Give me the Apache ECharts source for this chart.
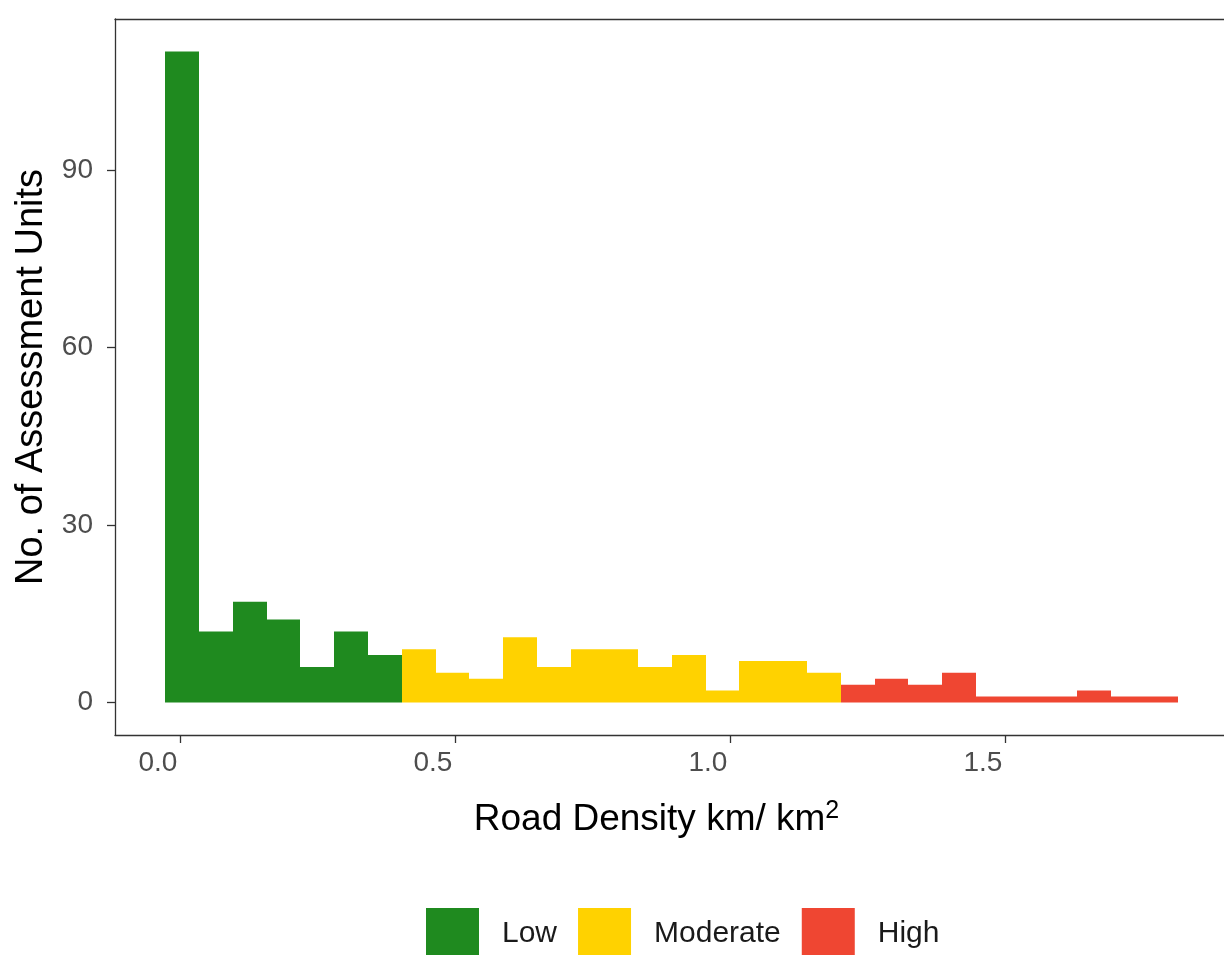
<!DOCTYPE html>
<html>
<head>
<meta charset="utf-8">
<script src="https://cdn.jsdelivr.net/npm/echarts@6/dist/echarts.min.js"></script>
<style>
  html, body { margin: 0; padding: 0; background: #ffffff; }
  #chart { width: 1224px; height: 955px; }
</style>
</head>
<body>
<div id="chart"></div>
<script>
// ---- Data ----
const binStart = -0.0273;          // left edge of first bin (km/km2)
const binWidth = 0.0614;           // histogram bin width (km/km2)
const categories = ['Low', 'Moderate', 'High'];
const lowCounts = [110, 12, 17, 14, 6, 12, 8];
const moderateCounts = [9, 5, 4, 11, 6, 9, 9, 6, 8, 2, 7, 7, 5];
const highCounts = [3, 4, 3, 5, 1, 1, 1, 2, 1, 1];
const xTicks = [0, 0.5, 1.0, 1.5];
const yTicks = [0, 30, 60, 90];
const colors = { Low: '#1f8a1f', Moderate: '#ffd200', High: '#ef4632' };

const FONT = '"Liberation Sans", Arial, Helvetica, sans-serif';
const X_MIN = -0.1189, X_MAX = 1.8975;

function binData(firstBinIndex, counts) {
  return counts.map((c, i) => [
    binStart + (firstBinIndex + i) * binWidth,
    binStart + (firstBinIndex + i + 1) * binWidth,
    c
  ]);
}

function histSeries(name, firstBinIndex, counts) {
  const color = colors[name];
  return {
    type: 'custom',
    name: name,
    xAxisIndex: 0,
    itemStyle: { color: color },
    data: binData(firstBinIndex, counts),
    encode: { x: [0, 1], y: 2 },
    renderItem: function (params, api) {
      const p0 = api.coord([api.value(0), 0]);
      const p1 = api.coord([api.value(1), api.value(2)]);
      const x0 = Math.round(p0[0]);
      const x1 = Math.round(p1[0]);
      return {
        type: 'rect',
        shape: { x: x0, y: p1[1], width: x1 - x0, height: p0[1] - p1[1] },
        style: { fill: color }
      };
    }
  };
}

const chart = echarts.init(document.getElementById('chart'), null, { renderer: 'canvas' });

const option = {
  backgroundColor: '#ffffff',
  animation: false,
  textStyle: { fontFamily: FONT },
  grid: {
    left: 115, top: 19, right: 0, bottom: 220,
    show: false,
    containLabel: false
  },
  xAxis: [{
    type: 'value',
    min: X_MIN, max: X_MAX,
    splitLine: { show: false },
    axisLine: { show: true, onZero: false, lineStyle: { color: '#333333', width: 1.3 } },
    axisTick: { show: true, length: 8, customValues: xTicks, lineStyle: { color: '#333333', width: 1.3 } },
    axisLabel: {
      customValues: xTicks,
      formatter: v => v.toFixed(1),
      fontSize: 28, color: '#4d4d4d', fontFamily: FONT,
      align: 'right', margin: 14, padding: [0, 3, 0, 0]
    },
    name: 'Road Density km/ km{sup|2}',
    nameLocation: 'middle',
    nameGap: 64,
    nameTextStyle: {
      fontSize: 37, color: '#000000', fontFamily: FONT, padding: [0, 26, 0, 0],
      rich: { sup: { fontSize: 25, color: '#000000', fontFamily: FONT, verticalAlign: 'top', padding: [0, 0, 17, 0] } }
    }
  }, {
    // top panel border
    type: 'value',
    position: 'top',
    min: X_MIN, max: X_MAX,
    splitLine: { show: false },
    axisLine: { show: true, onZero: false, lineStyle: { color: '#333333', width: 1.3 } },
    axisTick: { show: false },
    axisLabel: { show: false }
  }],
  yAxis: {
    type: 'value',
    min: -5.5, max: 115.5,
    splitLine: { show: false },
    axisLine: { show: true, onZero: false, lineStyle: { color: '#333333', width: 1.3 } },
    axisTick: { show: true, length: 8, customValues: yTicks, lineStyle: { color: '#333333', width: 1.3 } },
    axisLabel: {
      customValues: yTicks,
      fontSize: 28, color: '#4d4d4d', fontFamily: FONT, margin: 22
    },
    name: 'No. of Assessment Units',
    nameLocation: 'middle',
    nameGap: 56,
    nameTextStyle: { fontSize: 38, color: '#000000', fontFamily: FONT }
  },
  legend: {
    data: categories,
    top: 903,
    left: 421,
    icon: 'rect',
    itemWidth: 53,
    itemHeight: 52,
    itemGap: 21,
    textStyle: { fontSize: 30, color: '#1a1a1a', fontFamily: FONT, padding: [0, 0, 0, 18] }
  },
  series: [
    histSeries('Low', 0, lowCounts),
    histSeries('Moderate', lowCounts.length, moderateCounts),
    histSeries('High', lowCounts.length + moderateCounts.length, highCounts)
  ]
};

chart.setOption(option);
</script>
</body>
</html>
